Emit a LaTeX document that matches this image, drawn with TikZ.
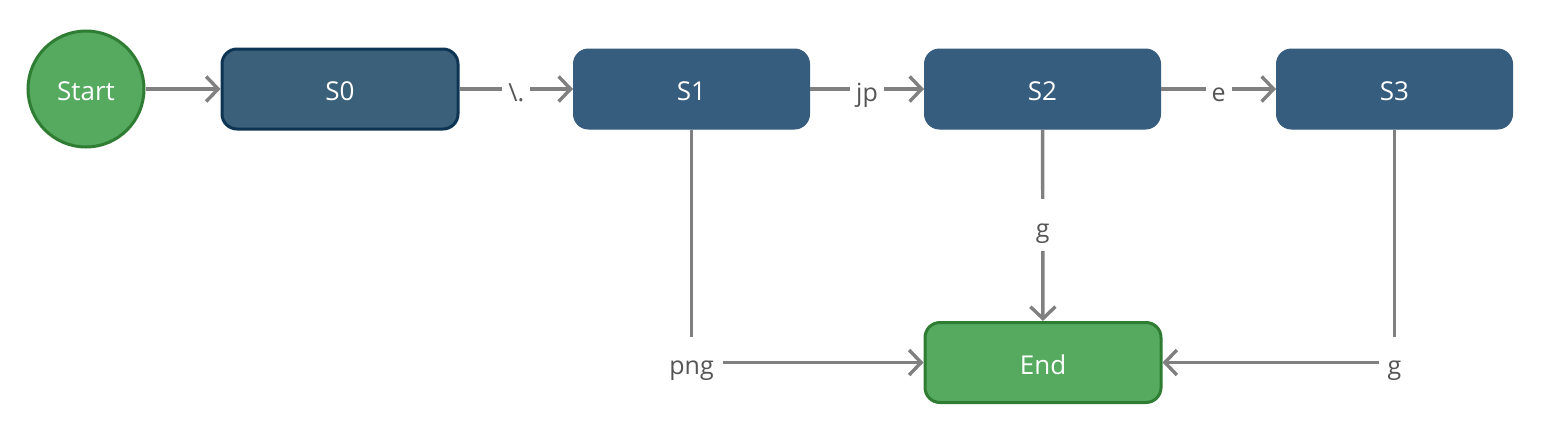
\documentclass[tikz,border=0pt]{standalone}
\usepackage{fontspec}
\setmainfont{Open Sans}
\usetikzlibrary{arrows.meta}
\definecolor{greenfill}{HTML}{55AA60}
\definecolor{greenline}{HTML}{2E7D32}
\definecolor{bluefill}{HTML}{365C7E}
\definecolor{s0fill}{HTML}{3A6179}
\definecolor{s0line}{HTML}{0D3553}
\definecolor{edgegrey}{HTML}{808080}
\definecolor{labelgrey}{HTML}{555555}
\begin{document}
\begin{tikzpicture}[x=1pt,y=-1pt,
  every node/.style={font=\fontsize{25}{30}\selectfont},
  statebox/.style={rectangle, rounded corners=15pt, minimum width=236pt, minimum height=80pt,
    fill=bluefill, draw=bluefill, line width=1pt, text=white, inner sep=0pt,
    font=\fontsize{26}{30}\selectfont, text height=23pt, text depth=0pt},
  s0box/.style={statebox, fill=s0fill, draw=s0line, line width=3pt},
  endbox/.style={statebox, fill=greenfill, draw=greenline, line width=3pt},
  startcirc/.style={circle, minimum size=116pt, fill=greenfill, draw=greenline, line width=3pt, text=white, inner sep=0pt,
    font=\fontsize{26}{30}\selectfont, text height=23pt, text depth=0pt},
  edge/.style={draw=edgegrey, line width=3.4pt, -{Straight Barb[length=12pt,width=25pt]}},
  elabel/.style={fill=white, text=labelgrey, inner xsep=6pt, inner ysep=7pt, text height=31pt, text depth=7pt}
]
\useasboundingbox (0,0) rectangle (1541,431);
\node[startcirc] (start) at (86,89) {Start};
\node[s0box] (S0) at (340,89) {S0};
\node[statebox] (S1) at (691.5,89) {S1};
\node[statebox] (S2) at (1042.5,89) {S2};
\node[statebox] (S3) at (1394.5,89) {S3};
\node[endbox] (End) at (1043,362.5) {End};
\draw[edge] (start) -- (S0);
\draw[edge] (S0) -- node[elabel] {\textbackslash.} (S1);
\draw[edge] (S1) -- node[elabel] {jp} (S2);
\draw[edge] (S2) -- node[elabel] {e} (S3);
\draw[edge] (S1) |- node[elabel, pos=0.5, inner xsep=9pt] {png} (End);
\draw[edge] (S2) -- node[elabel] {g} (End);
\draw[edge] (S3) |- node[elabel, pos=0.5, inner xsep=9pt] {g} (End);
\end{tikzpicture}
\end{document}
